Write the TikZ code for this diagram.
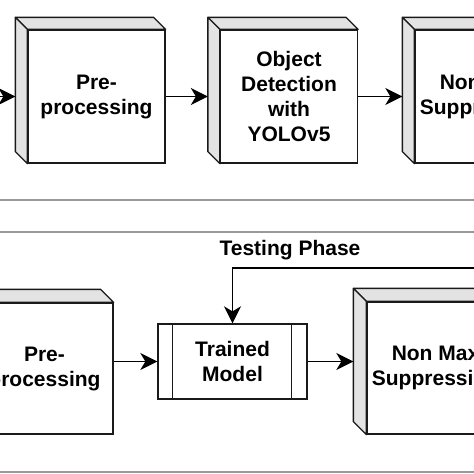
\documentclass[tikz,border=0pt]{standalone}
\usepackage{fontspec}
\setmainfont{Liberation Sans}
\usetikzlibrary{arrows.meta,calc}
\definecolor{edge}{HTML}{1A1A1A}
\definecolor{sidegray}{HTML}{E3E3E3}
\definecolor{sepgray}{HTML}{999999}
\newcommand\cubefaces[2]{%
  \filldraw[sideface] (#1.north west) -- ++(-#2,-#2) -- ($(#1.north east)+(-#2,-#2)$) -- (#1.north east) -- cycle;
  \filldraw[sideface] (#1.north west) -- ++(-#2,-#2) -- ($(#1.south west)+(-#2,-#2)$) -- (#1.south west) -- cycle;}
\begin{document}
\begin{tikzpicture}[x=1pt,y=-1pt,
  txt/.style={font=\fontsize{21}{25}\selectfont\bfseries, text=black, align=center},
  front/.style={txt, draw=edge, fill=white, line width=1.3pt, minimum width=137pt, minimum height=133pt, inner sep=0pt},
  procbox/.style={txt, draw=edge, fill=white, line width=1.3pt, minimum width=149pt, minimum height=75pt, inner sep=0pt},
  sideface/.style={draw=edge, fill=sidegray, line width=1.3pt, line join=round},
  arr/.style={-{Stealth[length=17pt,width=17pt,inset=5pt]}, line width=1.8pt, draw=black},
  sepline/.style={draw=sepgray, line width=1.5pt}]
\useasboundingbox (0,0) rectangle (474,474);
\clip (0,0) rectangle (474,474);
\fill[white] (0,0) rectangle (474,474);
% panel borders
\draw[sepline] (-10,200) -- (484,200);
\draw[sepline] (-10,232) -- (484,232);
\draw[sepline] (-10,472) -- (484,472);
% top row
\node[front] (p1) at (96.5,96.5) {Pre-\\processing};
\cubefaces{p1}{12}
\node[front] (od) at (289,96.5) {Object\\Detection\\with\\YOLOv5};
\cubefaces{od}{12}
\node[front] (nm1) at (483.5,96.5) {Non Max\\Suppression};
\cubefaces{nm1}{12}
\coordinate (in) at (-30,96.5);
\draw[arr] (in) -- ($(p1.west)+(-12,0)$);
\draw[arr] (p1.east) -- ($(od.west)+(-12,0)$);
\draw[arr] (od.east) -- ($(nm1.west)+(-12,0)$);
% bottom row
\node[front, minimum height=131pt] (p2) at (44.5,368.5) {Pre-\\processing};
\cubefaces{p2}{13}
\node[procbox] (tm) at (232.5,361.5) {Trained\\Model};
\draw[line width=1.3pt, draw=edge] ($(tm.north west)+(15,0)$) -- ($(tm.south west)+(15,0)$);
\draw[line width=1.3pt, draw=edge] ($(tm.north east)+(-16,0)$) -- ($(tm.south east)+(-16,0)$);
\node[front, minimum height=132pt] (nm2) at (435.5,368) {Non Max\\Suppression};
\cubefaces{nm2}{13}
\draw[arr] (p2.east |- tm.west) -- (tm.west);
\draw[arr] (tm.east) -- ($(nm2.west |- tm.east)+(-13,0)$);
\node[txt] (tl) at (290,250) {Testing Phase};
\coordinate (tp) at (490,268);
\draw[arr] (tp) -- (tp -| tm.north) -- (tm.north);
\end{tikzpicture}
\end{document}
